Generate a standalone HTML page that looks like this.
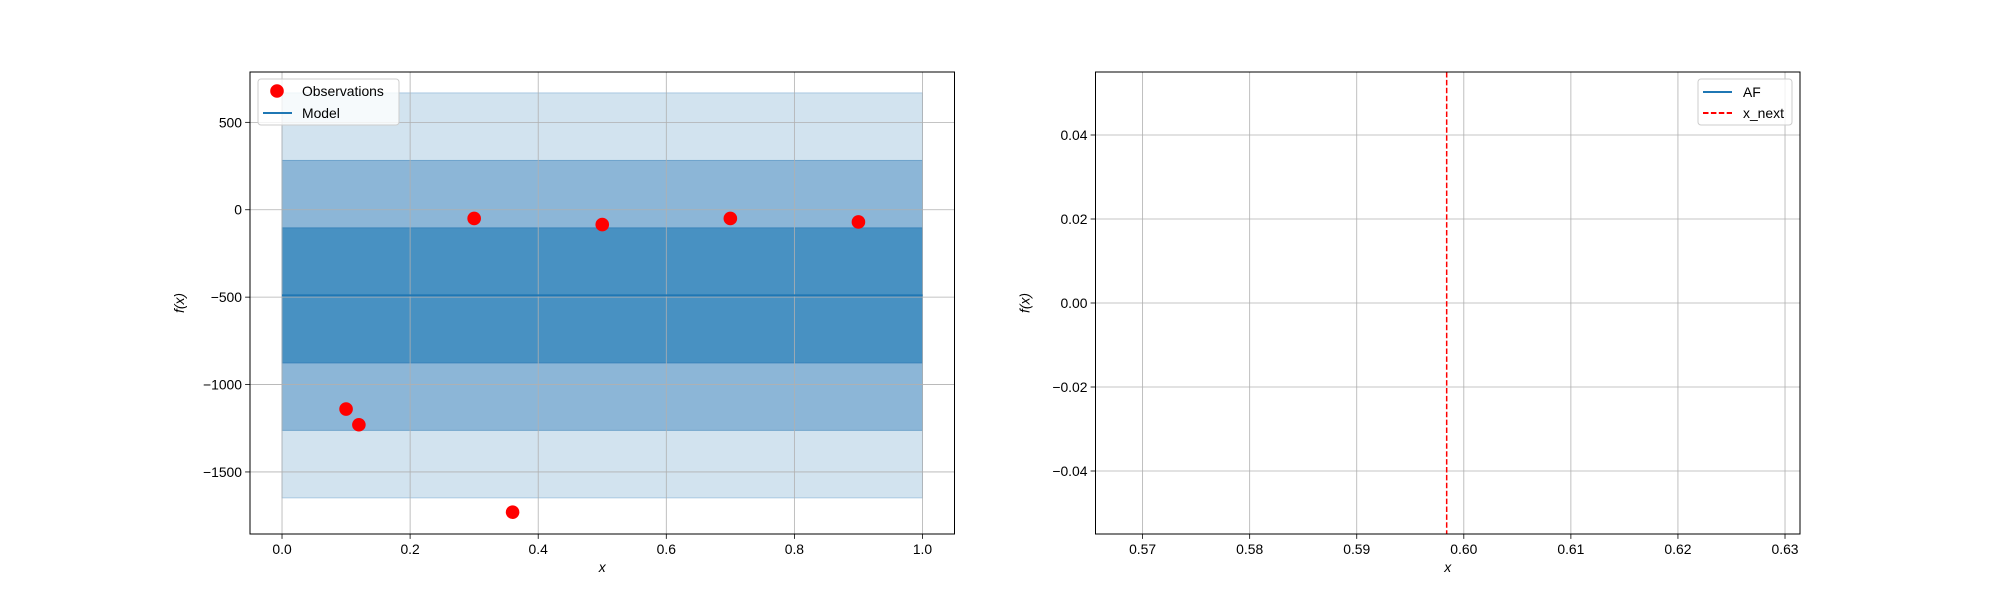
<!DOCTYPE html>
<html><head><meta charset="utf-8"><style>
body{margin:0;background:#fff}
svg{display:block;font-family:"Liberation Sans","DejaVu Sans",sans-serif}
</style></head><body>
<svg id="fig" width="2000" height="600" xmlns="http://www.w3.org/2000/svg"></svg>
<script>
const obsX=[0.1,0.12,0.3,0.36,0.5,0.7,0.9];
const obsY=[-1140,-1230,-50,-1730,-85,-50,-70];
const modelX=[0,1];
const modelMean=[-490,-490];
const modelSd=[386,386];
const leftXTicks=[0,0.2,0.4,0.6,0.8,1.0];
const leftXTickLabels=["0.0","0.2","0.4","0.6","0.8","1.0"];
const leftYTicks=[500,0,-500,-1000,-1500];
const leftYTickLabels=["500","0","\u2212500","\u22121000","\u22121500"];
const xNext=[0.5984];
const rightXTicks=[0.57,0.58,0.59,0.60,0.61,0.62,0.63];
const rightXTickLabels=["0.57","0.58","0.59","0.60","0.61","0.62","0.63"];
const rightYTicks=[0.04,0.02,0,-0.02,-0.04];
const rightYTickLabels=["0.04","0.02","0.00","\u22120.02","\u22120.04"];

const NS="http://www.w3.org/2000/svg";
const svg=document.getElementById('fig');
function el(tag,attrs,parent){const e=document.createElementNS(NS,tag);for(const k in attrs)e.setAttribute(k,attrs[k]);(parent||svg).appendChild(e);return e;}
function lin(d0,d1,r0,r1){return v=>r0+(v-d0)/(d1-d0)*(r1-r0);}

function axes(name,x0,x1,xmin,xmax,ymin,ymax,xt,xtl,yt,ytl){
  const g=el('g',{});
  
  
  const top=72,bot=534;
  const sx=lin(xmin,xmax,x0,x1), sy=lin(ymin,ymax,bot,top);
  const grid=el('g',{},g);
  
  
  return {g,sx,sy,x0,x1,top,bot,xt,xtl,yt,ytl,grid};
}
function finishAxes(a,ylabel){
  const {g,sx,sy,x0,x1,top,bot}=a;
  a.xt.forEach((t,i)=>{
    const x=sx(t);
    const l=el('line',{x1:x,x2:x,y1:top,y2:bot,stroke:'#b0b0b0','stroke-width':0.8},a.grid);
    
    
    el('line',{x1:x,x2:x,y1:bot,y2:bot+4.9,stroke:'#000','stroke-width':0.8},g);
    const tx=el('text',{x:x,y:bot+20,'font-size':13.9,'text-anchor':'middle',fill:'#000'},g);
    tx.textContent=a.xtl[i];
    
    
  });
  a.yt.forEach((t,i)=>{
    const y=sy(t);
    const l=el('line',{x1:x0,x2:x1,y1:y,y2:y,stroke:'#b0b0b0','stroke-width':0.8},a.grid);
    
    
    el('line',{x1:x0-4.9,x2:x0,y1:y,y2:y,stroke:'#000','stroke-width':0.8},g);
    const tx=el('text',{x:x0-8,y:y+5,'font-size':13.9,'text-anchor':'end',fill:'#000'},g);
    tx.textContent=a.ytl[i];
    
    
  });
  const fr=el('rect',{x:x0,y:top,width:x1-x0,height:bot-top,fill:'none',stroke:'#000','stroke-width':1},g);
  
  
  const xl=el('text',{x:(x0+x1)/2,y:bot+38,'font-size':13.9,'text-anchor':'middle','font-style':'italic'},g);
  xl.textContent='x';
  
  
  const yl=el('text',{x:0,y:0,'font-size':13.9,'text-anchor':'middle','font-style':'italic',transform:`translate(${x0-66},${(top+bot)/2}) rotate(-90)`},g);
  yl.textContent=ylabel;
  
  
}

// Left axes
const A=axes('model-plot',250,954.5,-0.05,1.05,-1855,788,leftXTicks,leftXTickLabels,leftYTicks,leftYTickLabels);
const bandColors=['#d2e3ef','#8cb6d7','#4891c2'];
const bandEdge=['#a9c9e1','#6fa3cb','#3a84bb'];
[3,2,1].forEach((k,i)=>{
  const xa=A.sx(modelX[0]), xb=A.sx(modelX[1]);
  const ya=A.sy(modelMean[0]+k*modelSd[0]), yb=A.sy(modelMean[0]-k*modelSd[0]);
  const r=el('rect',{x:xa,y:ya,width:xb-xa,height:yb-ya,fill:bandColors[i],stroke:bandEdge[i],'stroke-width':1},A.g);
  
  
});
A.g.appendChild(A.grid);
const ml=el('line',{x1:A.sx(modelX[0]),x2:A.sx(modelX[1]),y1:A.sy(modelMean[0]),y2:A.sy(modelMean[1]),stroke:'#1f77b4','stroke-width':2},A.g);


obsX.forEach((x,i)=>{
  const c=el('circle',{cx:A.sx(x),cy:A.sy(obsY[i]),r:6.8,fill:'#ff0000'},A.g);
  
  
});
finishAxes(A,'f(x)');
// left legend
const lg=el('g',{});


el('rect',{x:258,y:79,width:141,height:46,rx:3,fill:'#fff','fill-opacity':0.8,stroke:'#cccccc'},lg);
el('circle',{cx:277,cy:91,r:6.8,fill:'#ff0000'},lg);
let t=el('text',{x:302,y:96,'font-size':13.9},lg);t.textContent='Observations';


el('line',{x1:263,x2:292,y1:113,y2:113,stroke:'#1f77b4','stroke-width':2},lg);
t=el('text',{x:302,y:118,'font-size':13.9},lg);t.textContent='Model';



// Right axes
const B=axes('acquisition-plot',1095.5,1800,0.5656,0.6314,-0.055,0.055,rightXTicks,rightXTickLabels,rightYTicks,rightYTickLabels);
xNext.forEach(v=>{
  const l=el('line',{x1:B.sx(v),x2:B.sx(v),y1:B.top,y2:B.bot,stroke:'#ff0000','stroke-width':1.5,'stroke-dasharray':'5.5,2.4'},B.g);
  
  
});
finishAxes(B,'f(x)');
const lg2=el('g',{});


el('rect',{x:1698,y:79,width:94,height:46,rx:3,fill:'#fff','fill-opacity':0.8,stroke:'#cccccc'},lg2);
el('line',{x1:1703,x2:1732,y1:92,y2:92,stroke:'#1f77b4','stroke-width':2},lg2);
t=el('text',{x:1743,y:97,'font-size':13.9},lg2);t.textContent='AF';


el('line',{x1:1703,x2:1732,y1:113,y2:113,stroke:'#ff0000','stroke-width':2,'stroke-dasharray':'5.5,2.4'},lg2);
t=el('text',{x:1743,y:118,'font-size':13.9},lg2);t.textContent='x_next';


</script>
</body></html>
